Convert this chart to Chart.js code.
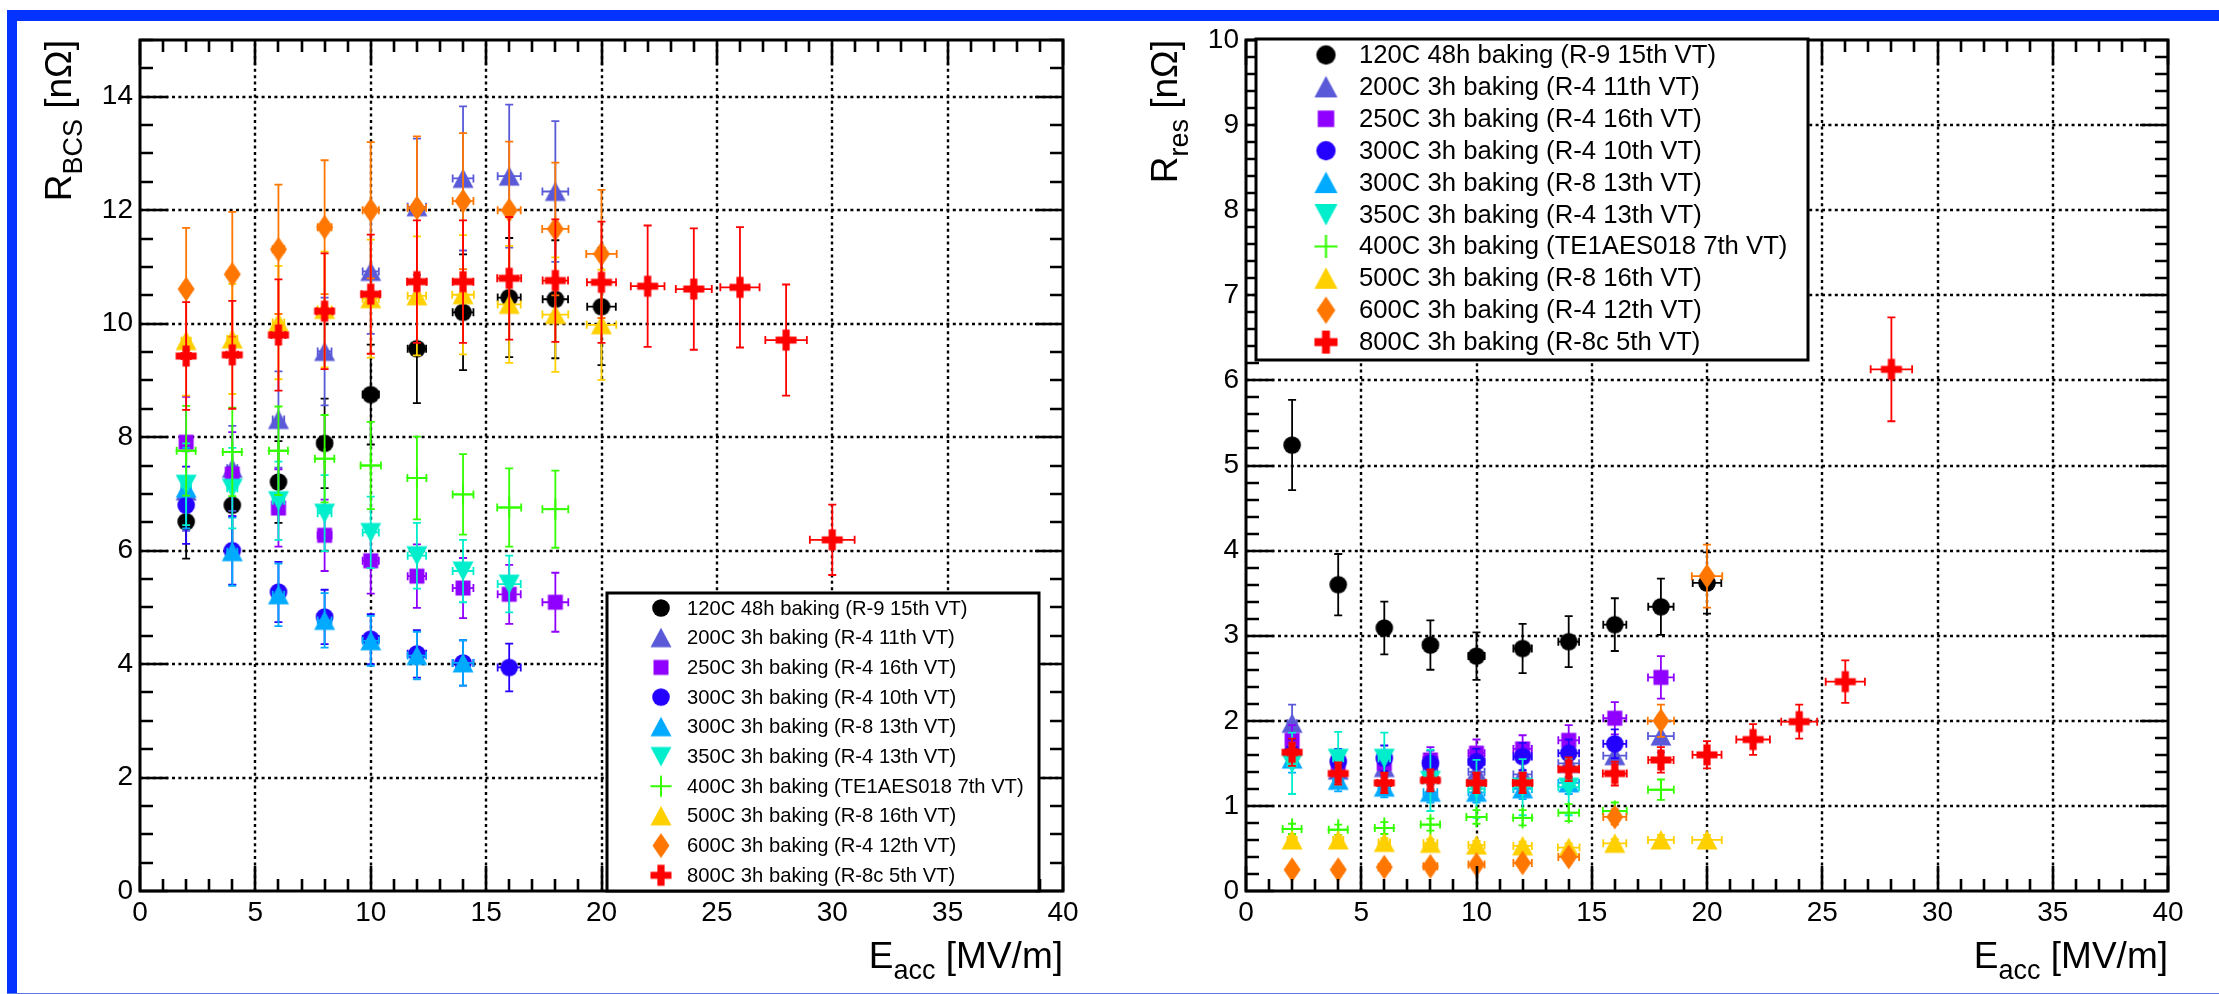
<!DOCTYPE html>
<html>
<head>
<meta charset="utf-8">
<script src="https://cdn.jsdelivr.net/npm/chart.js@4.4.1/dist/chart.umd.min.js"></script>
<style>
  html, body { margin:0; padding:0; background:#fff; }
  body { width:2219px; height:994px; position:relative; overflow:hidden; }
  .blue { position:absolute; background:#0433ff; }
  #wrapL { position:absolute; left:0; top:0; width:1110px; height:994px; }
  #wrapR { position:absolute; left:1110px; top:0; width:1109px; height:994px; }
</style>
</head>
<body>
<div id="wrapL"><canvas id="cL" width="1110" height="994"></canvas></div>
<div id="wrapR"><canvas id="cR" width="1109" height="994"></canvas></div>
<div class="blue" style="left:7px;top:10px;width:2212px;height:11px;"></div>
<div class="blue" style="left:7px;top:10px;width:10px;height:984px;"></div>
<div style="position:absolute;left:7px;top:993px;width:2212px;height:1px;background:#5a78e8;"></div>
<script>
// ---------------- DATA ----------------
const LABELS = [
  '120C 48h baking (R-9 15th VT)',
  '200C 3h baking (R-4 11th VT)',
  '250C 3h baking (R-4 16th VT)',
  '300C 3h baking (R-4 10th VT)',
  '300C 3h baking (R-8 13th VT)',
  '350C 3h baking (R-4 13th VT)',
  '400C 3h baking (TE1AES018 7th VT)',
  '500C 3h baking (R-8 16th VT)',
  '600C 3h baking (R-4 12th VT)',
  '800C 3h baking (R-8c 5th VT)'
];
const xTicks = [0, 5, 10, 15, 20, 25, 30, 35, 40];
const yTicksBCS = [0, 2, 4, 6, 8, 10, 12, 14];
const yTicksRes = [0, 1, 2, 3, 4, 5, 6, 7, 8, 9, 10];

// 120C 48h (R-9)
const E_120 = [2, 4, 6, 8, 10, 12, 14, 16, 18, 20];
const dE_120 = [0.2, 0.22, 0.25, 0.3, 0.35, 0.4, 0.45, 0.5, 0.55, 0.62];
const bcs_120 = [6.51, 6.80, 7.21, 7.89, 8.75, 9.56, 10.20, 10.46, 10.43, 10.30];
const bcsErr_120 = [0.65, 0.68, 0.72, 0.79, 0.88, 0.96, 1.02, 1.05, 1.04, 1.03];
const res_120 = [5.24, 3.60, 3.09, 2.89, 2.76, 2.85, 2.93, 3.13, 3.34, 3.62];
const resErr_120 = [0.53, 0.36, 0.31, 0.29, 0.28, 0.29, 0.30, 0.31, 0.33, 0.36];

// 200C 3h (R-4 11th)
const E_200 = [2, 4, 6, 8, 10, 12, 14, 16, 18];
const dE_200 = [0.2, 0.22, 0.25, 0.3, 0.35, 0.4, 0.45, 0.5, 0.56];
const bcs_200 = [7.05, 7.45, 8.31, 9.51, 10.92, 12.06, 12.56, 12.60, 12.33];
const bcsErr_200 = [0.70, 0.75, 0.85, 0.95, 1.10, 1.20, 1.27, 1.26, 1.24];
const res_200 = [1.97, 1.42, 1.45, 1.40, 1.40, 1.37, 1.50, 1.59, 1.82];
const resErr_200 = [0.22, 0.15, 0.15, 0.15, 0.15, 0.15, 0.16, 0.17, 0.19];

// 250C 3h (R-4 16th)
const E_250 = [2, 4, 6, 8, 10, 12, 14, 16, 18];
const dE_250 = [0.2, 0.22, 0.25, 0.3, 0.35, 0.4, 0.45, 0.5, 0.56];
const bcs_250 = [7.91, 7.35, 6.75, 6.27, 5.82, 5.55, 5.34, 5.23, 5.09];
const bcsErr_250 = [0.80, 0.74, 0.68, 0.63, 0.58, 0.56, 0.53, 0.52, 0.52];
const res_250 = [1.77, 1.50, 1.50, 1.54, 1.62, 1.67, 1.77, 2.03, 2.51];
const resErr_250 = [0.18, 0.15, 0.15, 0.15, 0.16, 0.16, 0.18, 0.19, 0.25];

// 300C 3h (R-4 10th)
const E_300a = [2, 4, 6, 8, 10, 12, 14, 16];
const dE_300a = [0.2, 0.22, 0.25, 0.3, 0.35, 0.4, 0.45, 0.5];
const bcs_300a = [6.80, 6.00, 5.27, 4.83, 4.44, 4.18, 4.02, 3.94];
const bcsErr_300a = [0.68, 0.60, 0.53, 0.48, 0.44, 0.42, 0.40, 0.42];
const res_300a = [1.62, 1.52, 1.56, 1.50, 1.52, 1.58, 1.62, 1.73];
const resErr_300a = [0.16, 0.15, 0.15, 0.15, 0.15, 0.16, 0.16, 0.17];

// 300C 3h (R-8 13th)
const E_300b = [2, 4, 6, 8, 10, 12, 14];
const dE_300b = [0.2, 0.22, 0.25, 0.3, 0.35, 0.4, 0.45];
const bcs_300b = [7.10, 5.98, 5.22, 4.77, 4.41, 4.15, 4.02];
const bcsErr_300b = [0.71, 0.60, 0.55, 0.48, 0.44, 0.42, 0.40];
const res_300b = [1.55, 1.30, 1.22, 1.16, 1.16, 1.20, 1.27];
const resErr_300b = [0.16, 0.13, 0.12, 0.12, 0.12, 0.12, 0.13];

// 350C 3h (R-4 13th)
const E_350_bcs = [2, 4, 6, 8, 10, 12, 14, 16];
const E_350_res = [2, 4, 6, 8, 10, 12, 14];
const dE_350 = [0.2, 0.22, 0.25, 0.3, 0.35, 0.4, 0.45, 0.5];
const bcs_350 = [7.17, 7.10, 6.88, 6.66, 6.32, 5.91, 5.64, 5.41];
const bcsErr_350 = [0.72, 0.71, 0.69, 0.67, 0.63, 0.58, 0.55, 0.50];
const res_350 = [1.50, 1.56, 1.56, 1.30, 1.20, 1.22, 1.22];
const resErr_350 = [0.36, 0.31, 0.30, 0.36, 0.34, 0.33, 0.33];

// 400C 3h (TE1AES018 7th)
const E_400 = [2, 4, 6, 8, 10, 12, 14, 16, 18];
const dE_400 = [0.41, 0.41, 0.41, 0.42, 0.44, 0.41, 0.45, 0.52, 0.56];
const bcs_400 = [7.76, 7.74, 7.76, 7.62, 7.50, 7.28, 6.99, 6.76, 6.73];
const bcsErr_400 = [0.79, 0.78, 0.78, 0.77, 0.77, 0.73, 0.71, 0.69, 0.68];
const res_400 = [0.73, 0.72, 0.74, 0.78, 0.87, 0.86, 0.92, 0.94, 1.19];
const resErr_400 = [0.06, 0.06, 0.07, 0.07, 0.08, 0.09, 0.10, 0.10, 0.12];

// 500C 3h (R-8 16th)
const E_500 = [2, 4, 6, 8, 10, 12, 14, 16, 18, 20];
const dE_500 = [0.2, 0.22, 0.25, 0.3, 0.35, 0.4, 0.47, 0.5, 0.56, 0.64];
const bcs_500 = [9.70, 9.73, 10.02, 10.25, 10.44, 10.49, 10.51, 10.34, 10.16, 9.98];
const bcsErr_500 = [0.97, 0.97, 1.00, 1.02, 1.04, 1.05, 1.05, 1.03, 1.01, 0.97];
const res_500 = [0.60, 0.60, 0.57, 0.56, 0.54, 0.53, 0.51, 0.56, 0.60, 0.60];
const resErr_500 = [0.05, 0.05, 0.05, 0.05, 0.05, 0.05, 0.05, 0.05, 0.06, 0.06];

// 600C 3h (R-4 12th)
const E_600 = [2, 4, 6, 8, 10, 12, 14, 16, 18, 20];
const dE_600 = [0.2, 0.22, 0.25, 0.3, 0.35, 0.4, 0.45, 0.5, 0.57, 0.66];
const bcs_600 = [10.61, 10.87, 11.31, 11.70, 12.00, 12.04, 12.16, 12.00, 11.67, 11.23];
const bcsErr_600 = [1.08, 1.10, 1.14, 1.18, 1.20, 1.26, 1.20, 1.21, 1.17, 1.13];
const res_600 = [0.25, 0.25, 0.28, 0.29, 0.31, 0.33, 0.40, 0.87, 2.00, 3.70];
const resErr_600 = [0.03, 0.03, 0.03, 0.03, 0.04, 0.04, 0.05, 0.09, 0.19, 0.37];

// 800C 3h (R-8c 5th)
const E_800_bcs = [2, 4, 6, 8, 10, 12, 14, 16, 18, 20, 22, 24, 26, 28, 30];
const E_800_res = [2, 4, 6, 8, 10, 12, 14, 16, 18, 20, 22, 24, 26, 28];
const dE_800 = [0.2, 0.25, 0.3, 0.35, 0.4, 0.42, 0.45, 0.52, 0.55, 0.63, 0.73, 0.78, 0.85, 0.9, 0.97];
const bcs_800 = [9.43, 9.45, 9.80, 10.22, 10.52, 10.74, 10.74, 10.80, 10.76, 10.73, 10.66, 10.61, 10.64, 9.71, 6.19];
const bcsErr_800 = [0.95, 0.95, 0.98, 1.02, 1.05, 1.08, 1.08, 1.08, 1.08, 1.07, 1.07, 1.07, 1.06, 0.98, 0.62];
const res_800 = [1.63, 1.38, 1.27, 1.30, 1.27, 1.27, 1.43, 1.38, 1.54, 1.60, 1.78, 1.99, 2.46, 6.13];
const resErr_800 = [0.16, 0.13, 0.12, 0.13, 0.12, 0.12, 0.14, 0.14, 0.15, 0.16, 0.18, 0.20, 0.25, 0.61];

// ---------------- STYLE ----------------
const COLORS = ['#000000', '#5a5ad8', '#9000ff', '#2400ff', '#00aaff', '#00eecc', '#33ff00', '#ffd000', '#ff7700', '#ff0000'];
const SHAPES = ['circle', 'triUp', 'square', 'circle', 'triUp', 'triDown', 'plus', 'triUp', 'diamond', 'cross'];
const FONT = '"Liberation Sans", Arial, Helvetica, sans-serif';

function makeMarker(shape, color, s) {
  const c = document.createElement('canvas');
  const W = Math.ceil(24 * s), H = Math.ceil(28 * s);
  c.width = W; c.height = H;
  const g = c.getContext('2d');
  g.translate(W / 2, H / 2); g.scale(s, s);
  g.fillStyle = color; g.strokeStyle = color;
  g.beginPath();
  switch (shape) {
    case 'circle': g.arc(0, 0, 8.8, 0, Math.PI * 2); g.fill(); break;
    case 'triUp': g.moveTo(0, -10); g.lineTo(10.5, 9.5); g.lineTo(-10.5, 9.5); g.closePath(); g.fill(); break;
    case 'triDown': g.moveTo(0, 10); g.lineTo(10.5, -9.5); g.lineTo(-10.5, -9.5); g.closePath(); g.fill(); break;
    case 'square': g.rect(-7.5, -7.5, 15, 15); g.fill(); break;
    case 'diamond': g.moveTo(0, -12.5); g.lineTo(8.5, 0); g.lineTo(0, 12.5); g.lineTo(-8.5, 0); g.closePath(); g.fill(); break;
    case 'plus': g.lineWidth = 2; g.moveTo(-10.5, 0); g.lineTo(10.5, 0); g.moveTo(0, -10.5); g.lineTo(0, 10.5); g.stroke(); break;
    case 'cross': {
      const a = 10.5, t = 3.6;
      g.moveTo(-t, -a); g.lineTo(t, -a); g.lineTo(t, -t); g.lineTo(a, -t); g.lineTo(a, t); g.lineTo(t, t);
      g.lineTo(t, a); g.lineTo(-t, a); g.lineTo(-t, t); g.lineTo(-a, t); g.lineTo(-a, -t); g.lineTo(-t, -t);
      g.closePath(); g.fill(); break;
    }
  }
  return c;
}
const plotMarkers = COLORS.map((c, i) => makeMarker(SHAPES[i], c, 1));

function line(ctx, x1, y1, x2, y2) { ctx.moveTo(x1, y1); ctx.lineTo(x2, y2); }

const rootPlugin = {
  id: 'root',
  beforeDatasetsDraw(chart, args, o) {
    const { ctx, chartArea: a, scales: { x, y } } = chart;
    ctx.save();
    ctx.strokeStyle = '#000'; ctx.lineWidth = 2.4; ctx.setLineDash([3, 3.4]);
    ctx.beginPath();
    for (const v of o.xTicks) {
      if (v <= x.min || v >= x.max) continue;
      const px = Math.round(x.getPixelForValue(v));
      line(ctx, px, a.bottom, px, a.top);
    }
    for (const v of o.yTicks) {
      if (v <= y.min || v >= y.max) continue;
      const py = Math.round(y.getPixelForValue(v));
      line(ctx, a.left, py, a.right, py);
    }
    ctx.stroke();
    ctx.restore();
  },
  beforeDatasetDraw(chart, args) {
    const { ctx, scales: { x, y } } = chart;
    const ds = chart.data.datasets[args.index];
    ctx.save();
    ctx.strokeStyle = ds.errColor; ctx.lineWidth = 1.8; ctx.setLineDash([]);
    ctx.beginPath();
    ds.data.forEach((p, i) => {
      const px = x.getPixelForValue(p.x), py = y.getPixelForValue(p.y);
      const ey = ds.yErr[i], ex = ds.xErr[i];
      const y1 = y.getPixelForValue(p.y + ey), y2 = y.getPixelForValue(p.y - ey);
      const x1 = x.getPixelForValue(p.x - ex), x2 = x.getPixelForValue(p.x + ex);
      line(ctx, px, y1, px, y2);
      line(ctx, px - 4, y1, px + 4, y1); line(ctx, px - 4, y2, px + 4, y2);
      line(ctx, x1, py, x2, py);
      line(ctx, x1, py - 4, x1, py + 4); line(ctx, x2, py - 4, x2, py + 4);
    });
    ctx.stroke();
    ctx.restore();
  },
  afterDatasetsDraw(chart, args, o) {
    const { ctx, chartArea: a, scales: { x, y } } = chart;
    ctx.save();
    ctx.strokeStyle = '#000'; ctx.lineWidth = 2.6; ctx.setLineDash([]);
    ctx.beginPath();
    const nx = Math.round((x.max - x.min) / o.xMinor);
    for (let k = 0; k <= nx; k++) {
      const v = x.min + k * o.xMinor;
      const major = o.xTicks.some(t => Math.abs(t - v) < 1e-6);
      const len = major ? 25 : 12;
      const px = Math.round(x.getPixelForValue(v));
      line(ctx, px, a.bottom, px, a.bottom - len);
      line(ctx, px, a.top, px, a.top + len);
    }
    const ny = Math.round((y.max - y.min) / o.yMinor);
    for (let k = 0; k <= ny; k++) {
      const v = y.min + k * o.yMinor;
      const major = o.yTicks.some(t => Math.abs(t - v) < 1e-6);
      const len = major ? 28 : 13;
      const py = Math.round(y.getPixelForValue(v));
      line(ctx, a.left, py, a.left + len, py);
      line(ctx, a.right, py, a.right - len, py);
    }
    ctx.stroke();
    ctx.lineWidth = 3;
    ctx.strokeRect(a.left, a.top, a.right - a.left, a.bottom - a.top);
    ctx.restore();
  },
  afterDraw(chart, args, o) {
    const { ctx, chartArea: a } = chart;
    // legend
    const L = o.legend;
    ctx.save();
    ctx.fillStyle = '#fff';
    ctx.fillRect(L.box[0], L.box[1], L.box[2] - L.box[0], L.box[3] - L.box[1]);
    ctx.strokeStyle = '#000'; ctx.lineWidth = 3;
    ctx.strokeRect(L.box[0], L.box[1], L.box[2] - L.box[0], L.box[3] - L.box[1]);
    ctx.font = L.fontSize + 'px ' + FONT;
    ctx.fillStyle = '#000'; ctx.textBaseline = 'middle'; ctx.textAlign = 'left';
    chart.data.datasets.forEach((ds, i) => {
      const yy = L.rowY0 + i * L.rowStep;
      const m = L.markers[i];
      ctx.drawImage(m, L.markerX - m.width / 2, yy - m.height / 2);
      ctx.fillText(ds.label, L.textX, yy + 1);
    });
    // axis titles
    const T = o.titles, fs = T.size, ss = Math.round(fs * 0.72);
    ctx.fillStyle = '#000'; ctx.textBaseline = 'alphabetic';
    const big = fs + 'px ' + FONT, small = ss + 'px ' + FONT;
    function pieces(t) {
      ctx.font = big; const w1 = ctx.measureText(t[0]).width;
      ctx.font = small; const w2 = ctx.measureText(t[1]).width;
      ctx.font = big; const w3 = ctx.measureText(t[2]).width;
      return [w1, w2, w3];
    }
    function drawTitle(t, endX, baseY) {
      const [w1, w2, w3] = pieces(t);
      let xx = endX - (w1 + w2 + w3);
      ctx.textAlign = 'left';
      ctx.font = big; ctx.fillText(t[0], xx, baseY); xx += w1;
      ctx.font = small; ctx.fillText(t[1], xx, baseY + fs * 0.3); xx += w2;
      ctx.font = big; ctx.fillText(t[2], xx, baseY);
    }
    drawTitle(T.x, a.right, T.xBase);
    ctx.save();
    ctx.translate(a.left - T.yOffset, a.top);
    ctx.rotate(-Math.PI / 2);
    drawTitle(T.y, 0, 0);
    ctx.restore();
    ctx.restore();
  }
};

function buildSeries(panel) {
  if (panel === 'bcs') return [
    [E_120, bcs_120, bcsErr_120, dE_120],
    [E_200, bcs_200, bcsErr_200, dE_200],
    [E_250, bcs_250, bcsErr_250, dE_250],
    [E_300a, bcs_300a, bcsErr_300a, dE_300a],
    [E_300b, bcs_300b, bcsErr_300b, dE_300b],
    [E_350_bcs, bcs_350, bcsErr_350, dE_350],
    [E_400, bcs_400, bcsErr_400, dE_400],
    [E_500, bcs_500, bcsErr_500, dE_500],
    [E_600, bcs_600, bcsErr_600, dE_600],
    [E_800_bcs, bcs_800, bcsErr_800, dE_800]
  ];
  return [
    [E_120, res_120, resErr_120, dE_120],
    [E_200, res_200, resErr_200, dE_200],
    [E_250, res_250, resErr_250, dE_250],
    [E_300a, res_300a, resErr_300a, dE_300a],
    [E_300b, res_300b, resErr_300b, dE_300b],
    [E_350_res, res_350, resErr_350, dE_350],
    [E_400, res_400, resErr_400, dE_400],
    [E_500, res_500, resErr_500, dE_500],
    [E_600, res_600, resErr_600, dE_600],
    [E_800_res, res_800, resErr_800, dE_800]
  ];
}

function makeChart(id, panel, cfg) {
  const series = buildSeries(panel);
  const tickFont = { family: FONT, size: 28 };
  return new Chart(document.getElementById(id), {
    type: 'scatter',
    data: {
      datasets: series.map((s, i) => ({
        label: LABELS[i],
        data: s[0].map((e, k) => ({ x: e, y: s[1][k] })),
        yErr: s[2], xErr: s[3],
        errColor: COLORS[i],
        pointStyle: plotMarkers[i],
        pointRadius: 10, pointHoverRadius: 10,
        backgroundColor: COLORS[i], borderColor: COLORS[i],
        showLine: false,
        order: 10 - i
      }))
    },
    options: {
      responsive: false, animation: false, devicePixelRatio: 1, events: [],
      layout: { padding: cfg.padding },
      plugins: {
        legend: { display: false }, tooltip: { enabled: false },
        root: {
          xTicks: xTicks, yTicks: cfg.yTicks, xMinor: 1, yMinor: cfg.yMinor,
          legend: cfg.legend, titles: cfg.titles
        }
      },
      scales: {
        x: {
          type: 'linear', min: 0, max: 40,
          afterBuildTicks: s => { s.ticks = xTicks.map(v => ({ value: v })); },
          afterFit: s => { s.height = cfg.xAxisH; },
          ticks: { font: tickFont, color: '#000', padding: 5, maxRotation: 0, autoSkip: false },
          grid: { display: false, drawTicks: false }, border: { display: false }
        },
        y: {
          type: 'linear', min: 0, max: cfg.yMax,
          afterBuildTicks: s => { s.ticks = cfg.yTicks.map(v => ({ value: v })); },
          afterFit: s => { s.width = cfg.yAxisW; },
          ticks: { font: tickFont, color: '#000', padding: 7, autoSkip: false },
          grid: { display: false, drawTicks: false }, border: { display: false }
        }
      }
    },
    plugins: [rootPlugin]
  });
}

makeChart('cL', 'bcs', {
  padding: { top: 40, right: 47, bottom: 0, left: 0 },
  xAxisH: 103, yAxisW: 140, yMax: 15, yTicks: yTicksBCS, yMinor: 0.5,
  legend: {
    box: [607, 593, 1039, 891], markerX: 661, textX: 687, rowY0: 608, rowStep: 29.7,
    fontSize: 20.2, markers: COLORS.map((c, i) => makeMarker(SHAPES[i], c, 1))
  },
  titles: { size: 37, x: ['E', 'acc', ' [MV/m]'], y: ['R', 'BCS', ' [n\u03A9]'], xBase: 968, yOffset: 69 }
});

makeChart('cR', 'res', {
  padding: { top: 40, right: 51, bottom: 0, left: 0 },
  xAxisH: 103, yAxisW: 136, yMax: 10, yTicks: yTicksRes, yMinor: 0.2,
  legend: {
    box: [146, 39, 698, 360], markerX: 216, textX: 249, rowY0: 55, rowStep: 31.9,
    fontSize: 25.7, markers: COLORS.map((c, i) => makeMarker(SHAPES[i], c, 1.1))
  },
  titles: { size: 37, x: ['E', 'acc', ' [MV/m]'], y: ['R', 'res', ' [n\u03A9]'], xBase: 968, yOffset: 69 }
});
</script>
</body>
</html>
